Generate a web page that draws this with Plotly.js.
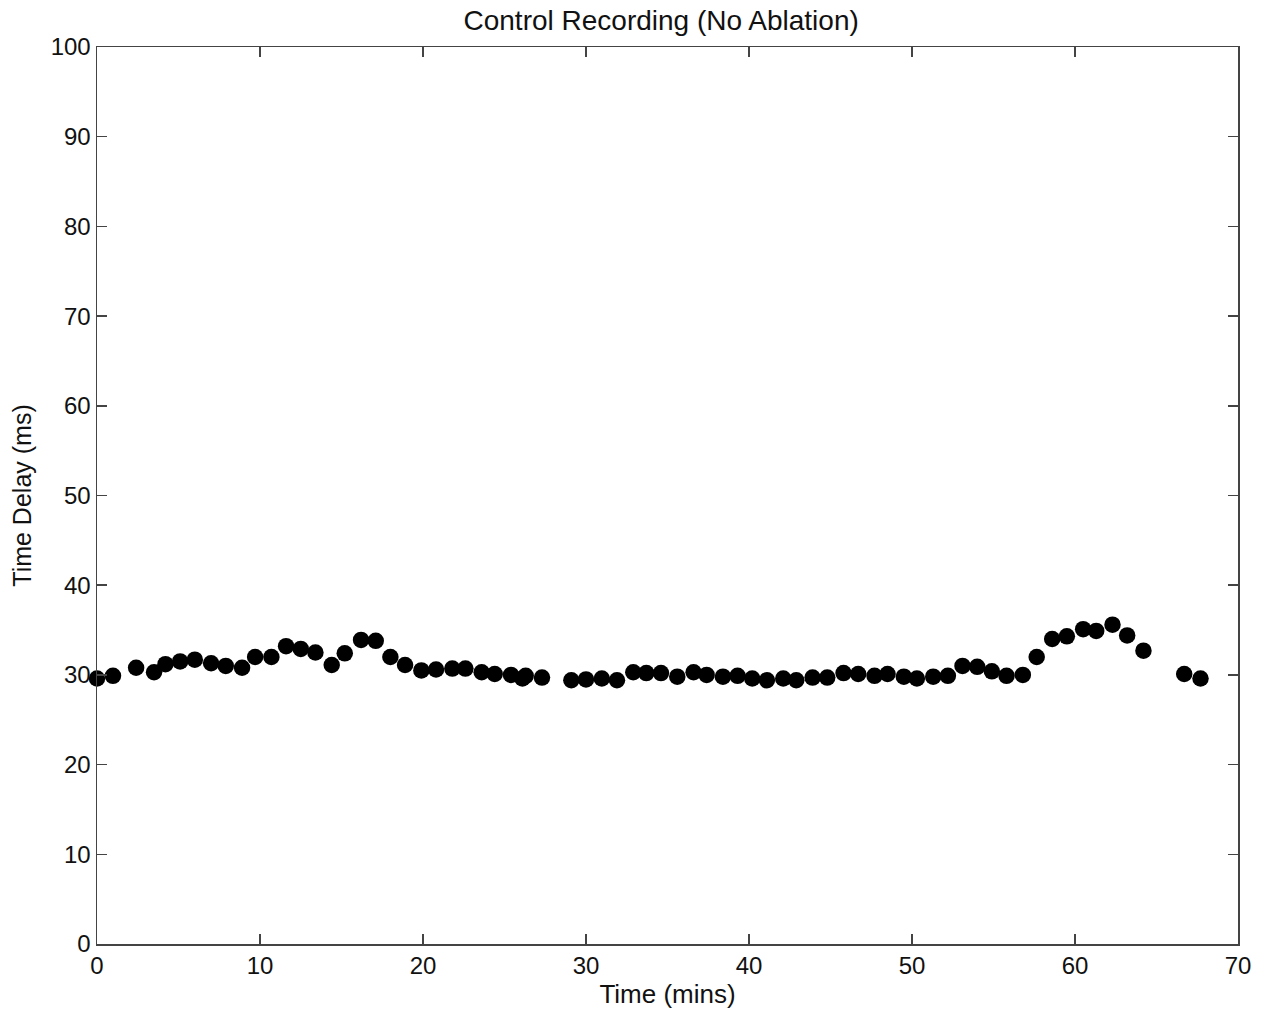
<!DOCTYPE html>
<html>
<head>
<meta charset="utf-8">
<script src="https://cdn.plot.ly/plotly-3.0.1.min.js"></script>
<style>html,body{margin:0;padding:0;background:#fff;}#chart{width:1269px;height:1014px;}</style>
</head>
<body>
<div id="chart"></div>
<script>
const timeMins = [0, 0.98, 2.4, 3.5, 4.2, 5.1, 6.0, 7.0, 7.9, 8.9, 9.7, 10.7, 11.6, 12.5, 13.4, 14.4, 15.2, 16.2, 17.1,
  18.0, 18.9, 19.9, 20.8, 21.8, 22.6, 23.6, 24.4, 25.4, 26.1, 26.3, 27.3,
  29.1, 30.0, 30.97, 31.9, 32.9, 33.7, 34.6, 35.6, 36.6, 37.4, 38.4, 39.3, 40.2, 41.1, 42.1, 42.9, 43.9, 44.8,
  45.8, 46.7, 47.7, 48.5, 49.5, 50.3, 51.3, 52.2, 53.1, 54.0, 54.9, 55.8, 56.8, 57.65, 58.6, 59.5, 60.5, 61.3,
  62.3, 63.2, 64.2, 66.7, 67.7];
const timeDelayMs = [29.6, 29.9, 30.8, 30.3, 31.2, 31.5, 31.7, 31.3, 31.0, 30.8, 32.0, 32.0, 33.2, 32.9, 32.5, 31.1, 32.4, 33.9, 33.8,
  32.0, 31.1, 30.5, 30.6, 30.7, 30.7, 30.3, 30.1, 30.0, 29.6, 29.9, 29.7,
  29.4, 29.5, 29.6, 29.4, 30.3, 30.2, 30.2, 29.8, 30.3, 30.0, 29.8, 29.9, 29.6, 29.4, 29.6, 29.4, 29.7, 29.7,
  30.2, 30.1, 29.9, 30.1, 29.8, 29.6, 29.8, 29.9, 31.0, 30.9, 30.4, 29.9, 30.0, 32.0, 34.0, 34.3, 35.1, 34.9,
  35.6, 34.4, 32.7, 30.1, 29.6];
const xTicks = [0, 10, 20, 30, 40, 50, 60, 70];
const yTicks = [0, 10, 20, 30, 40, 50, 60, 70, 80, 90, 100];

const FONT = 'Liberation Sans, Arial, sans-serif';
const axisCommon = {
  showgrid: false, zeroline: false, showline: true, mirror: 'ticks',
  linecolor: '#444', linewidth: 1.5, ticks: 'inside', ticklen: 10, tickwidth: 1.5, tickcolor: '#444',
  tickfont: {family: FONT, size: 24, color: '#111'}
};

Plotly.newPlot('chart', [{
  x: timeMins, y: timeDelayMs, mode: 'markers', type: 'scatter',
  marker: {color: '#000', size: 16.5, line: {width: 0}}, cliponaxis: false
}], {
  width: 1269, height: 1014,
  margin: {l: 97, r: 31, t: 47, b: 70},
  paper_bgcolor: '#fff', plot_bgcolor: '#fff', showlegend: false,
  title: {text: 'Control Recording (No Ablation)', x: 0.521, xanchor: 'center', y: 0.98, yanchor: 'middle',
    font: {family: FONT, size: 28, color: '#111'}},
  xaxis: Object.assign({}, axisCommon, {range: [0, 70], tickvals: xTicks, ticktext: xTicks.map(String),
    title: {text: 'Time (mins)', standoff: 6, font: {family: FONT, size: 26, color: '#111'}}}),
  yaxis: Object.assign({}, axisCommon, {range: [0, 100], tickvals: yTicks, ticktext: yTicks.map(String),
    title: {text: 'Time Delay (ms)', standoff: 12, font: {family: FONT, size: 25, color: '#111'}}})
}, {staticPlot: true});
</script>
</body>
</html>
